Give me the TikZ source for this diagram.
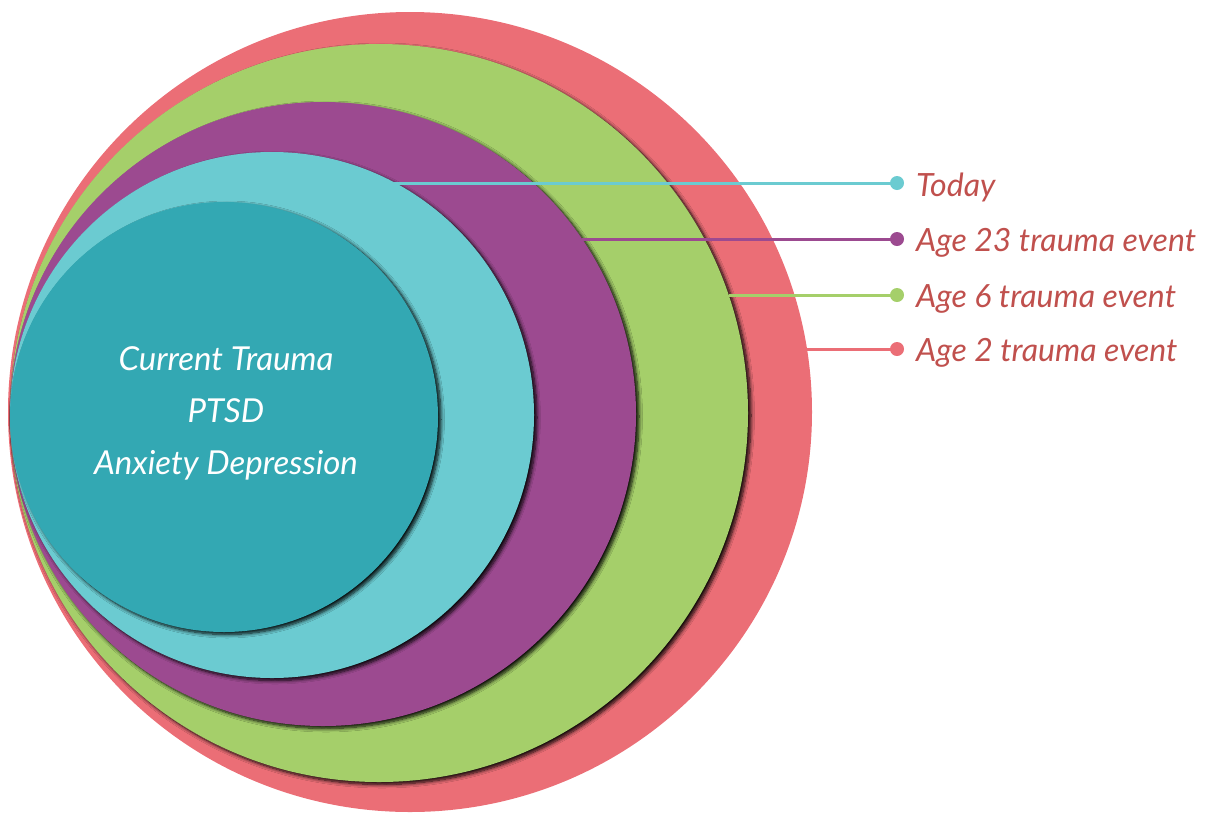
\documentclass[tikz,border=0pt]{standalone}
\usepackage{fontspec}
\setmainfont{Lato}
\usetikzlibrary{shadows.blur}
\definecolor{cRed}{HTML}{EB6E76}
\definecolor{cGreen}{HTML}{A5CF6A}
\definecolor{cPurple}{HTML}{9C4A90}
\definecolor{cCyan}{HTML}{6BCBD1}
\definecolor{cTeal}{HTML}{33A8B3}
\definecolor{cLab}{HTML}{C0504D}
\begin{document}
\begin{tikzpicture}[x=1pt,y=-1pt,
  ring/.style={blur shadow={shadow xshift=3pt,shadow yshift=-2.5pt,shadow blur radius=3.5pt,shadow blur steps=8,shadow opacity=95}},
  lead/.style={line width=3pt},
  dotmark/.style={circle,inner sep=0pt,minimum size=14pt},
  lab/.style={anchor=west,inner sep=0pt,font=\itshape\fontsize{32}{34}\selectfont,text=cLab}]
\useasboundingbox (0,0) rectangle (1207,812);
% rings
\fill[cRed] (410,412) ellipse [x radius=402pt,y radius=400pt];
\fill[cGreen,ring] (379,413) ellipse [x radius=369pt,y radius=369pt];
\fill[cPurple,ring] (323,414) ellipse [x radius=313pt,y radius=312pt];
\fill[cCyan,ring] (272,415) ellipse [x radius=262pt,y radius=263pt];
\fill[cTeal,ring] (224,417) ellipse [x radius=214pt,y radius=215pt];
\node[text=white,align=center,font=\itshape\fontsize{33}{52}\selectfont] (core) at (226,413)
  {Current Trauma\\PTSD\\Anxiety Depression};
% leader start points
\coordinate (sT) at (393,183);
\coordinate (sA) at (582,239);
\coordinate (sB) at (729,295);
\coordinate (sC) at (806,349);
% dots
\node[dotmark,fill=cCyan] (dT) at (897,183) {};
\node[dotmark,fill=cPurple] (dA) at (897,239) {};
\node[dotmark,fill=cGreen] (dB) at (897,295) {};
\node[dotmark,fill=cRed] (dC) at (897,349) {};
\draw[lead,cCyan] (sT) -- (dT.center);
\draw[lead,cPurple] (sA) -- (dA.center);
\draw[lead,cGreen] (sB) -- (dB.center);
\draw[lead,cRed] (sC) -- (dC.center);
\node[lab] (lT) at (916,187) {Today};
\node[lab] (lA) at (916,243) {Age 23 trauma event};
\node[lab] (lB) at (916,299) {Age 6 trauma event};
\node[lab] (lC) at (916,353) {Age 2 trauma event};
\end{tikzpicture}
\end{document}
